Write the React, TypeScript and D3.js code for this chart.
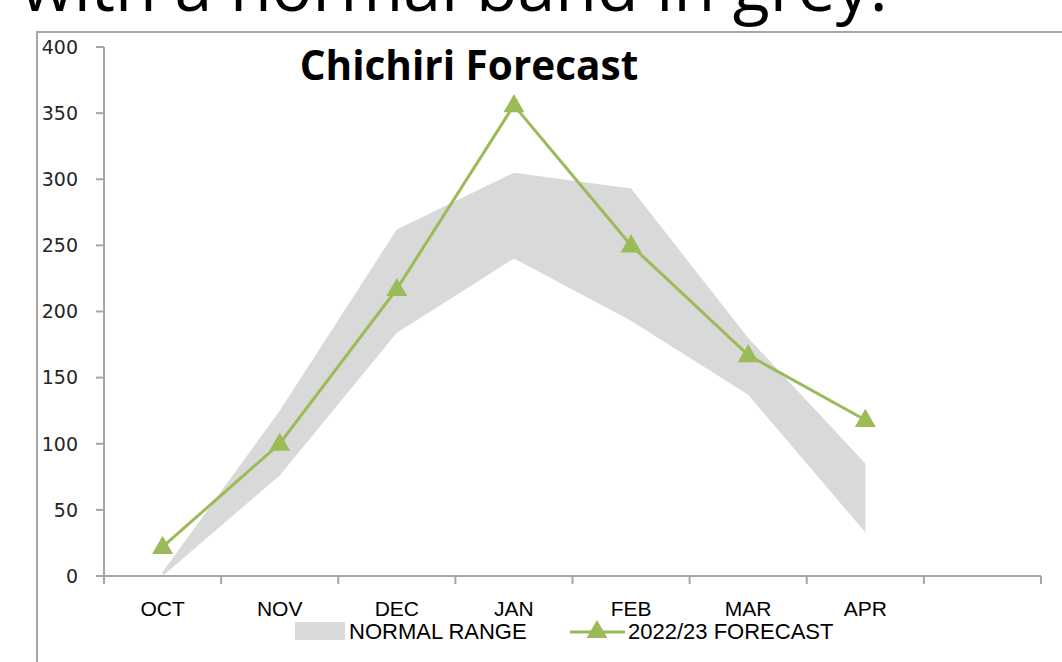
import React from 'react';
import * as d3 from 'd3';

// months on the category axis; the last slot is left empty
const categories = ['OCT', 'NOV', 'DEC', 'JAN', 'FEB', 'MAR', 'APR', ''];
const normalLow = [0, 76, 184, 240, 193, 137, 33];
const normalHigh = [3, 125, 262, 305, 293, 180, 85];
const forecast = [22, 100, 217, 356, 250, 167, 118];
const yTicks = [0, 50, 100, 150, 200, 250, 300, 350, 400];

export default function App() {
    const width = 1062;
    const height = 662;
    const green = '#9bbb59';
    const band = '#d9d9d9';
    const axisColor = '#a6a6a6';

    const margin = { top: 47, right: 21, bottom: 86, left: 104 };
    const innerWidth = width - (margin.left + margin.right);
    const innerHeight = height - (margin.top + margin.bottom);

    const xScale = d3.scaleBand()
        .domain(categories.map((c, i) => String(i)))
        .range([0, innerWidth]);
    const xCenter = (i: number) => (xScale(String(i)) as number) + xScale.bandwidth() / 2;

    const yScale = d3.scaleLinear()
        .domain([0, 400])
        .range([innerHeight, 0]);

    const area = d3.area<number>()
        .x((d, i) => xCenter(i))
        .y0((d, i) => yScale(normalLow[i]))
        .y1(d => yScale(d));

    const line = d3.line<number>()
        .x((d, i) => xCenter(i))
        .y(d => yScale(d));

    const triangle = d3.symbol(d3.symbolTriangle, 190)();

    const boundaries = d3.range(categories.length + 1).map(i => i * xScale.step());

    return (
        <svg width={width} height={height} style={{ position: 'absolute', left: 0, top: 0 }}>
            <text x={21} y={11} fontFamily="Open Sans" fontSize={68} fill="#000">
                with a normal band in grey.
            </text>
            <rect x={37} y={32} width={1100} height={700} fill="#fff" stroke={axisColor} strokeWidth={2} />

            <text x={469} y={80} textAnchor="middle" fontFamily="Open Sans" fontWeight="bold"
                fontSize={40.5} fill="#000">Chichiri Forecast</text>

            <g transform={`translate(${margin.left},${margin.top})`}>
                <path d={area(normalHigh) as string} fill={band} />

                {/* y axis */}
                <line x1={0} x2={0} y1={0} y2={innerHeight + 8} stroke={axisColor} strokeWidth={2} />
                {yTicks.map(t => (
                    <g key={t} transform={`translate(0,${yScale(t)})`}>
                        <line x1={-8} x2={0} stroke={axisColor} strokeWidth={2} />
                        <text x={-26} dy="0.36em" textAnchor="end" fontFamily="DejaVu Sans"
                            fontSize={19} fill="#262626">{t}</text>
                    </g>
                ))}

                {/* x axis */}
                <line x1={0} x2={innerWidth} y1={innerHeight} y2={innerHeight} stroke={axisColor} strokeWidth={2} />
                {boundaries.map((b, i) => (
                    <line key={i} x1={b} x2={b} y1={innerHeight} y2={innerHeight + 8}
                        stroke={axisColor} strokeWidth={2} />
                ))}
                {categories.map((c, i) => (
                    <text key={i} x={xCenter(i)} y={innerHeight + 40} textAnchor="middle"
                        fontFamily="Liberation Sans" fontSize={21} fill="#000">{c}</text>
                ))}

                <path d={line(forecast) as string} fill="none" stroke={green} strokeWidth={3} />
                {forecast.map((v, i) => (
                    <path key={i} d={triangle as string} fill={green}
                        transform={`translate(${xCenter(i)},${yScale(v) + 1})`} />
                ))}
            </g>

            {/* legend */}
            <g transform="translate(295,622)">
                <rect x={0} y={0} width={50} height={18} fill={band} />
                <text x={54} y={17} fontFamily="Liberation Sans" fontSize={22} fill="#000">NORMAL RANGE</text>
                <line x1={275} x2={330} y1={10} y2={10} stroke={green} strokeWidth={3} />
                <path d={triangle as string} fill={green} transform="translate(302,10)" />
                <text x={333} y={17} fontFamily="Liberation Sans" fontSize={22} fill="#000">2022/23 FORECAST</text>
            </g>
        </svg>
    );
}
